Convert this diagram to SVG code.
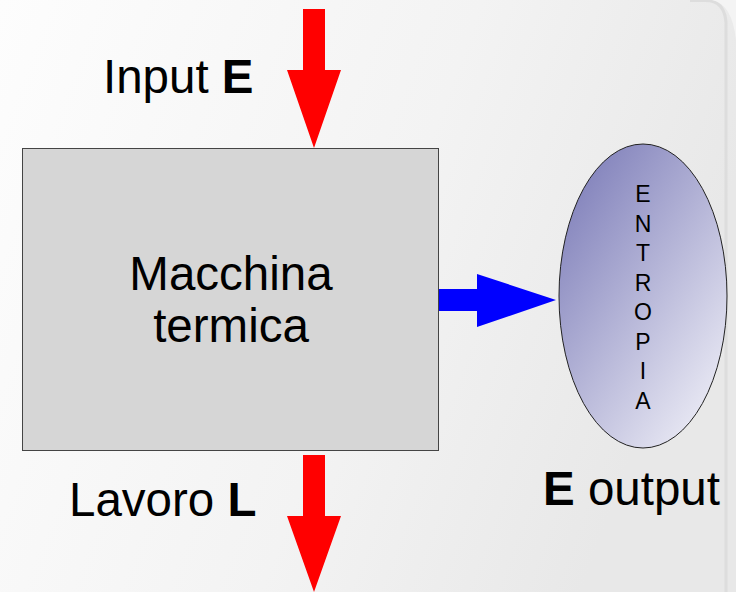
<svg xmlns="http://www.w3.org/2000/svg" width="736" height="592" viewBox="0 0 736 592">
  <defs>
    <linearGradient id="bg" x1="0" y1="0" x2="1" y2="0.3">
      <stop offset="0" stop-color="#fdfdfd"/>
      <stop offset="0.6" stop-color="#f3f3f3"/>
      <stop offset="1" stop-color="#e8e8e8"/>
    </linearGradient>
    <linearGradient id="entropyFill" x1="0.15" y1="0.1" x2="0.85" y2="0.95">
      <stop offset="0" stop-color="#8585bd"/>
      <stop offset="1" stop-color="#ebebf5"/>
    </linearGradient>
    <style>
      .lbl { font-family: "Liberation Sans", Arial, sans-serif; fill: #000; }
      .big { font-size: 47.5px; }
      .b { font-weight: bold; }
      .red { fill: #ff0000; }
      .blue { fill: #0000ff; }
      .vert { font-size: 23px; text-anchor: middle; }
    </style>
  </defs>

  <!-- slide background with rounded panel corner at top right -->
  <rect x="0" y="0" width="736" height="592" fill="url(#bg)"/>
  <path d="M690,0.5 H705 Q724,0 726,22 V592" fill="none" stroke="#d9d9d9" stroke-width="3" opacity="0.8"/>
  <path d="M712,0 H736 V40 Q732,4 712,0 Z" fill="#f4f4f4"/>

  <!-- connectors -->
  <g id="connectors">
    <polygon class="red" points="303,9 325,9 325,70 341,70 314,148 287,70 303,70"/>
    <polygon class="red" points="303,455 325,455 325,516 341,516 314,592 287,516 303,516"/>
    <polygon class="blue" points="438,289 477,289 477,274 556,300 477,327 477,311 438,311"/>
  </g>

  <!-- heat engine -->
  <g id="macchina">
    <rect x="22.5" y="148.5" width="416" height="302" fill="#d6d6d6" stroke="#444" stroke-width="1"/>
    <text class="lbl big" x="231" y="290" text-anchor="middle">Macchina</text>
    <text class="lbl big" x="231" y="342" text-anchor="middle">termica</text>
  </g>

  <!-- entropy -->
  <g id="entropia">
    <ellipse cx="643" cy="296" rx="84" ry="152" fill="url(#entropyFill)" stroke="#222" stroke-width="1"/>
    <text class="lbl vert" x="643" y="202">E</text>
    <text class="lbl vert" x="643" y="231.5">N</text>
    <text class="lbl vert" x="643" y="261">T</text>
    <text class="lbl vert" x="643" y="290.5">R</text>
    <text class="lbl vert" x="643" y="320">O</text>
    <text class="lbl vert" x="643" y="349.5">P</text>
    <text class="lbl vert" x="643" y="379">I</text>
    <text class="lbl vert" x="643" y="408.5">A</text>
  </g>

  <!-- flow labels -->
  <g id="input-label">
    <text class="lbl big" x="103" y="93">Input <tspan class="b">E</tspan></text>
  </g>
  <g id="lavoro-label">
    <text class="lbl big" x="69" y="516">Lavoro <tspan class="b">L</tspan></text>
  </g>
  <g id="output-label">
    <text class="lbl big" x="543" y="505"><tspan class="b">E</tspan> output</text>
  </g>
</svg>
